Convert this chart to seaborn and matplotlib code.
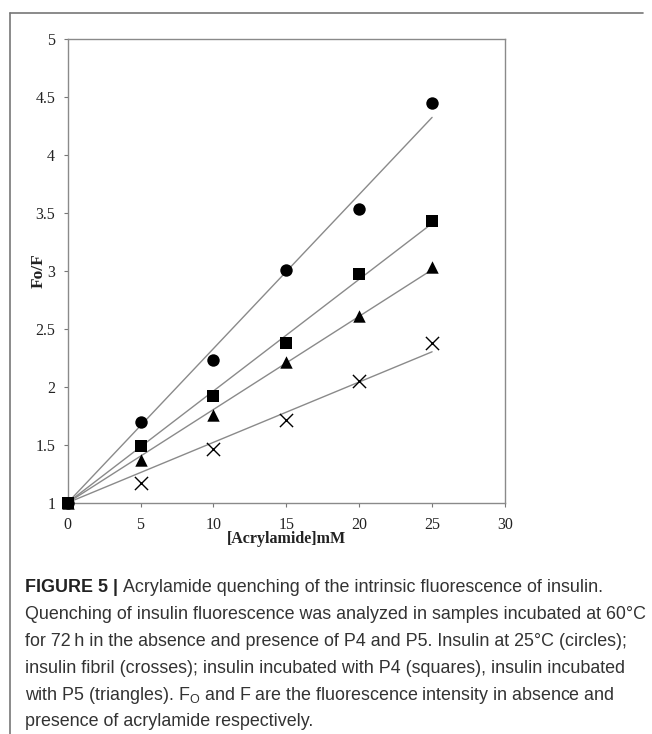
import numpy as np
import pandas as pd
import matplotlib
matplotlib.use("Agg")
import matplotlib.pyplot as plt
import seaborn as sns
from matplotlib.lines import Line2D

conc = [0, 5, 10, 15, 20, 25]
circles = [1.0, 1.70, 2.23, 3.01, 3.53, 4.45]    # insulin at 25 C
squares = [1.0, 1.49, 1.92, 2.38, 2.97, 3.43]    # with P4
triangles = [1.0, 1.37, 1.76, 2.21, 2.61, 3.03]  # with P5
crosses = [1.0, 1.17, 1.46, 1.71, 2.05, 2.38]    # fibril
xticks = [0, 5, 10, 15, 20, 25, 30]
yticks = [1, 1.5, 2, 2.5, 3, 3.5, 4, 4.5, 5]
ytick_labels = ["1", "1.5", "2", "2.5", "3", "3.5", "4", "4.5", "5"]

sns.set_style("white")
serif = ["Liberation Serif", "DejaVu Serif"]
sans = ["Liberation Sans", "DejaVu Sans"]

fig = plt.figure(figsize=(6.52, 7.34), dpi=100)
ax = fig.add_axes([0.1038, 0.3151, 0.6707, 0.6318])

x = np.array(conc, dtype=float)
# fitted lines through (0,1) (Stern-Volmer)
for ys in [circles, squares, triangles, crosses]:
    y = np.array(ys)
    k = np.sum(x * (y - 1)) / np.sum(x * x)
    fit = pd.DataFrame({"x": x, "y": 1 + k * x})
    sns.lineplot(data=fit, x="x", y="y", ax=ax, color="#8a8a8a", lw=1.0, zorder=2)

dfx = pd.DataFrame({"x": conc[1:], "y": crosses[1:]})
sns.scatterplot(data=dfx, x="x", y="y", ax=ax, marker="x", s=90,
                color="black", linewidth=1.0, zorder=3)
for ys, mk in [(triangles, "^"), (circles, "o"), (squares, "s")]:
    df = pd.DataFrame({"x": conc, "y": ys})
    sns.scatterplot(data=df, x="x", y="y", ax=ax, marker=mk, s=80,
                    color="black", edgecolor="black", linewidth=0, zorder=3)
for c in ax.collections:
    c.set_clip_on(False)

ax.set_xlim(0, 30)
ax.set_ylim(1, 5)
ax.set_xticks(xticks)
ax.set_yticks(yticks)
ax.set_xticklabels([str(t) for t in xticks], family=serif, fontsize=11.5, color="#222222")
ax.set_yticklabels(ytick_labels, family=serif, fontsize=11.5, color="#222222")
ax.tick_params(axis="both", direction="out", length=3, width=0.8, color="#777777",
               bottom=True, left=True)
ax.tick_params(axis="x", pad=7)
ax.tick_params(axis="y", pad=6)
for s in ax.spines.values():
    s.set_color("#8a8a8a")
    s.set_linewidth(1.0)
ax.set_xlabel("[Acrylamide]mM", family=serif, fontsize=11.5, fontweight="bold",
              color="#222222")
ax.set_ylabel("Fo/F", family=serif, fontsize=12.5, fontweight="bold",
              color="#222222")
ax.xaxis.set_label_coords(0.5, -0.079)
ax.yaxis.set_label_coords(-0.066, 0.5)
ax.xaxis.label.set_va("center")
ax.yaxis.label.set_va("center")

# figure frame (top and left border)
fig.add_artist(Line2D([10/652, 643/652], [1 - 13/734, 1 - 13/734],
                      transform=fig.transFigure, color="#777777", lw=1.2))
fig.add_artist(Line2D([10/652, 10/652], [1 - 13/734, 0],
                      transform=fig.transFigure, color="#777777", lw=1.2))

lines = [
    None,
    "Quenching of insulin fluorescence was analyzed in samples incubated at 60°C",
    "for 72\u2009h in the absence and presence of P4 and P5. Insulin at 25°C (circles);",
    "insulin fibril (crosses); insulin incubated with P4 (squares), insulin incubated",
    "with P5 (triangles). F$_\\mathregular{O}$ and F are the fluorescence intensity in absence and",
    "presence of acrylamide respectively.",
]
x0 = 25/652
y0 = 588
dy = 26.8
fs = 12.9
t = fig.text(x0, 1 - y0/734, "FIGURE 5 | ", family=sans, fontsize=fs, fontweight="bold",
             color="#222222", va="center", ha="left")
fig.canvas.draw()
bb = t.get_window_extent()
fig.text(bb.x1/652, 1 - y0/734, "Acrylamide quenching of the intrinsic fluorescence of insulin.",
         family=sans, fontsize=fs, color="#333333", va="center", ha="left")
for i in range(1, 6):
    fig.text(x0, 1 - (y0 + i*dy)/734, lines[i], family=sans, fontsize=fs,
             color="#333333", va="center", ha="left")

fig.savefig("out.png", dpi=100)
